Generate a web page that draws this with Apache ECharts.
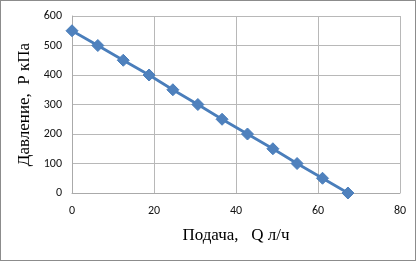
<!DOCTYPE html>
<html><head><meta charset="utf-8">
<script src="https://cdn.jsdelivr.net/npm/echarts@6/dist/echarts.min.js"></script>
<style>html,body{margin:0;padding:0;background:#fff}#c{width:416px;height:261px;box-sizing:border-box;border:1px solid #8c8c8c}</style>
</head><body><div id="c"></div>
<script>
const flowQ = [0, 6.3, 12.5, 18.8, 24.6, 30.7, 36.6, 42.8, 49, 54.9, 61.1, 67.3];
const pressureP = [550, 500, 450, 400, 350, 300, 250, 200, 150, 100, 50, 0];
const xTitle = 'Подача,   Q л/ч';
const yTitle = 'Давление,  Р кПа';

const chart = echarts.init(document.getElementById('c'), null, {renderer: 'canvas'});
chart.setOption({
  animation: false,
  grid: {left: 71, right: 15, top: 15, bottom: 67, containLabel: false},
  xAxis: {
    type: 'value', min: 0, max: 80, interval: 20,
    name: xTitle, nameLocation: 'middle', nameGap: 34,
    nameTextStyle: {fontFamily: 'Liberation Serif', fontSize: 17, color: '#000'},
    axisLine: {show: true, onZero: false, lineStyle: {color: '#aaa'}},
    axisTick: {show: false},
    axisLabel: {fontFamily: 'Carlito, Liberation Sans, sans-serif', fontSize: 12, color: '#111', margin: 12},
    splitLine: {show: true, lineStyle: {color: '#b8b8b8', width: 1}}
  },
  yAxis: {
    type: 'value', min: 0, max: 600, interval: 100,
    name: yTitle, nameLocation: 'middle', nameGap: 37,
    nameTextStyle: {fontFamily: 'Liberation Serif', fontSize: 17, color: '#000'},
    axisLine: {show: true, lineStyle: {color: '#aaa'}},
    axisTick: {show: false},
    axisLabel: {fontFamily: 'Carlito, Liberation Sans, sans-serif', fontSize: 12, color: '#111', margin: 10},
    splitLine: {show: true, lineStyle: {color: '#b8b8b8', width: 1}}
  },
  series: [{
    type: 'line',
    data: flowQ.map((q, i) => [q, pressureP[i]]),
    symbol: 'diamond', symbolSize: 12,
    lineStyle: {color: '#4a7ebb', width: 2.75},
    itemStyle: {color: '#4f81bd', borderColor: '#4a7ebb', borderWidth: 1}
  }]
});
</script></body></html>
